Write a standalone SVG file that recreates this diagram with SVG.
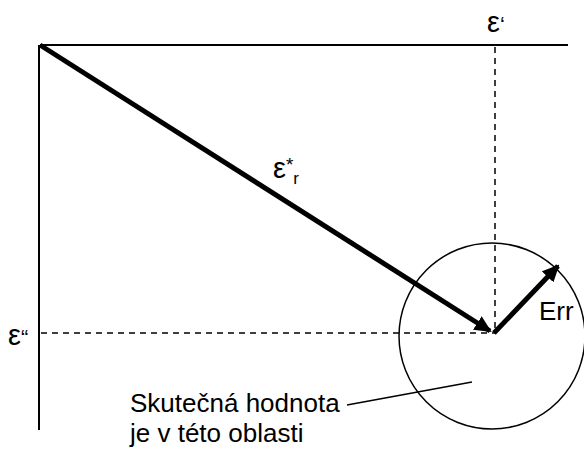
<svg xmlns="http://www.w3.org/2000/svg" width="584" height="450" viewBox="0 0 584 450">
<style>
text{font-family:"Liberation Sans",Arial,sans-serif;font-size:26px;fill:#000}
.eps{font-size:29px}
.thin{stroke:#000;stroke-width:2;fill:none}
.dash{stroke:#000;stroke-width:1.5;stroke-dasharray:6,5;fill:none}
.thick{stroke:#000;stroke-width:5;fill:none}
</style>
<defs>
<marker id="ah" markerWidth="3.4" markerHeight="3.2" refX="3" refY="1.6" orient="auto" markerUnits="strokeWidth">
<path d="M0,0 L3.4,1.6 L0,3.2 Z" fill="#000"/>
</marker>
</defs>
<g id="axes">
<line class="thin" x1="40" y1="45" x2="568" y2="45"/>
<line class="thin" x1="39" y1="45" x2="39" y2="430"/>
</g>
<g id="connectors">
<line class="dash" x1="495" y1="47" x2="495" y2="333"/>
<line class="dash" x1="41" y1="333" x2="495" y2="333"/>
<line class="thick" x1="40" y1="45" x2="490" y2="331" marker-end="url(#ah)"/>
<line class="thick" x1="494" y1="333" x2="558" y2="266" marker-end="url(#ah)"/>
<line stroke="#000" stroke-width="1.5" x1="347" y1="405" x2="472" y2="382"/>
</g>
<g id="region">
<circle cx="492" cy="336" r="93" fill="none" stroke="#000" stroke-width="1.5"/>
</g>
<g id="labels">
<text class="eps" x="487" y="32">ε<tspan font-size="22">‘</tspan></text>
<text class="eps" x="8" y="345">ε<tspan font-size="22">“</tspan></text>
<text class="eps" x="273" y="178">ε<tspan font-size="19" dy="-7">*</tspan><tspan font-size="17" dy="13">r</tspan></text>
<text x="539" y="320">Err</text>
<text x="130" y="412">Skutečná hodnota</text>
<text x="130" y="442">je v této oblasti</text>
</g>
</svg>
